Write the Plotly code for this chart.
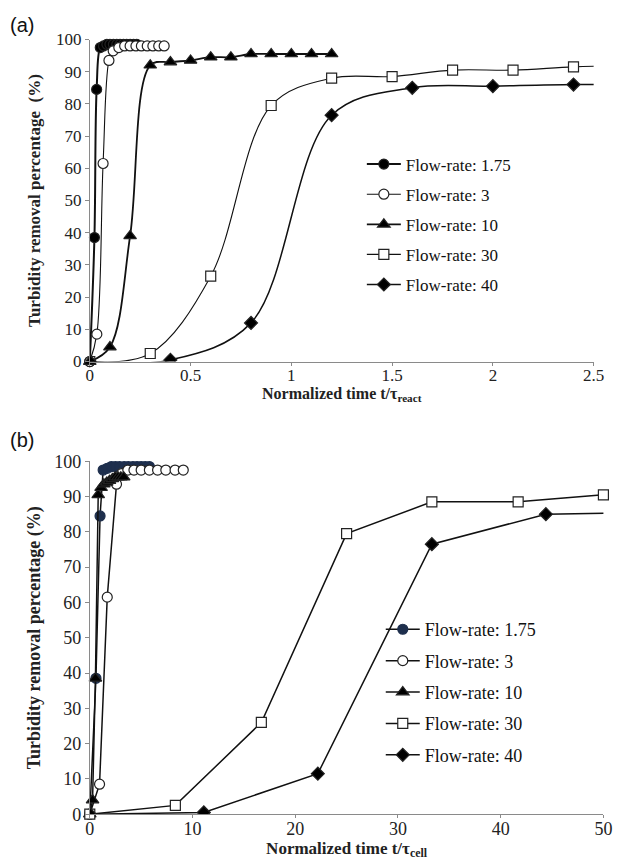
import plotly.graph_objects as go

# ---------------- data: panel (a) (x = t / tau_react) ----------------
a_x_175 = [0, 0.023, 0.034, 0.052, 0.068, 0.085, 0.10, 0.117, 0.134, 0.15, 0.167, 0.183, 0.20, 0.217, 0.233]
a_y_175 = [0, 38.5, 84.5, 97.5, 98, 98.5, 98.5, 98.5, 98.5, 98.5, 98.5, 98.5, 98.5, 98.5, 98.5]

a_x_3 = [0, 0.035, 0.066, 0.095, 0.116, 0.144, 0.173, 0.20, 0.229, 0.256, 0.285, 0.313, 0.342, 0.369]
a_y_3 = [0, 8.5, 61.5, 93.5, 96.5, 97.5, 98, 98, 98, 98, 98, 98, 98, 98]

a_x_10 = [0, 0.1, 0.2, 0.3, 0.4, 0.5, 0.6, 0.7, 0.8, 0.9, 1.0, 1.1, 1.2]
a_y_10 = [0, 4.5, 39, 92, 93, 93.5, 94.5, 94.5, 95.5, 95.5, 95.5, 95.5, 95.5]

a_x_30 = [0, 0.3, 0.6, 0.9, 1.2, 1.5, 1.8, 2.1, 2.4, 2.7]
a_y_30 = [0, 2.5, 26.5, 79.5, 88, 88.5, 90.5, 90.5, 91.5, 92]

a_x_40 = [0, 0.4, 0.8, 1.2, 1.6, 2.0, 2.4, 2.8]
a_y_40 = [0, 0.5, 12, 76.5, 85, 85.5, 86, 86]

# ---------------- data: panel (b) (x = t / tau_cell) ----------------
b_x_175 = [0, 0.6, 1.0, 1.3, 1.7, 2.1, 2.5, 2.9, 3.35, 3.75, 4.2, 4.6, 5.0, 5.4, 5.8]
b_y_175 = [0, 38.5, 84.5, 97.5, 98, 98.5, 98.5, 98.5, 98.5, 98.5, 98.5, 98.5, 98.5, 98.5, 98.5]

b_x_3 = [0, 0.95, 1.7, 2.6, 3.1, 3.7, 4.3, 5.0, 5.8, 6.6, 7.4, 8.3, 9.1]
b_y_3 = [0, 8.5, 61.5, 93.5, 96.5, 97.5, 97.5, 97.5, 97.5, 97.5, 97.5, 97.5, 97.5]

b_x_10 = [0, 0.27, 0.55, 0.82, 1.1, 1.37, 1.65, 1.92, 2.2, 2.47, 2.75, 3.02, 3.3]
b_y_10 = [0, 4, 38.5, 90.5, 92.5, 93.5, 94, 94.5, 95, 95.5, 95.5, 95.5, 95.5]

b_x_30 = [0, 8.33, 16.7, 25.0, 33.3, 41.7, 50.0]
b_y_30 = [0, 2.5, 26, 79.5, 88.5, 88.5, 90.5]

b_x_40 = [0, 11.1, 22.2, 33.3, 44.4, 55.5]
b_y_40 = [0, 0.5, 11.5, 76.5, 85, 85.5]

names = ["Flow-rate: 1.75", "Flow-rate: 3", "Flow-rate: 10", "Flow-rate: 30", "Flow-rate: 40"]

a_x_ticks = [0, 0.5, 1, 1.5, 2, 2.5]
a_x_ticklabels = ["0", "0.5", "1", "1.5", "2", "2.5"]
b_x_ticks = [0, 10, 20, 30, 40, 50]
y_ticks = list(range(0, 101, 10))

SERIF = "Liberation Serif, Times New Roman, DejaVu Serif, serif"
SANS = "Liberation Sans, Arial, sans-serif"

fig = go.Figure()

styles = [
    dict(symbol="circle", size=10, color="black", lw=2.0),
    dict(symbol="circle", size=10, color="white", lw=1.1),
    dict(symbol="triangle-up", size=11, color="black", lw=1.8),
    dict(symbol="square", size=10, color="white", lw=1.1),
    dict(symbol="diamond", size=10, color="black", lw=1.5),
]

a_data = [(a_x_175, a_y_175), (a_x_3, a_y_3), (a_x_10, a_y_10), (a_x_30, a_y_30), (a_x_40, a_y_40)]
b_data = [(b_x_175, b_y_175), (b_x_3, b_y_3), (b_x_10, b_y_10), (b_x_30, b_y_30), (b_x_40, b_y_40)]

for i, ((xs, ys), st) in enumerate(zip(a_data, styles)):
    fig.add_trace(go.Scatter(
        x=xs, y=ys, mode="lines+markers", name=names[i],
        xaxis="x", yaxis="y", legend="legend", legendgroup="a%d" % i,
        line=dict(color="#111", width=st["lw"], shape="spline", smoothing=1.0),
        marker=dict(symbol=st["symbol"], size=st["size"], color=st["color"],
                    line=dict(color="#222", width=1.2)),
        cliponaxis=(i >= 3),
    ))

b_fill = ["#1e2f4d", "white", "black", "white", "black"]
for i, ((xs, ys), st) in enumerate(zip(b_data, styles)):
    fig.add_trace(go.Scatter(
        x=xs, y=ys, mode="lines+markers", name=names[i],
        xaxis="x2", yaxis="y2", legend="legend2", legendgroup="b%d" % i,
        line=dict(color="#111", width=1.5),
        marker=dict(symbol=st["symbol"], size=st["size"], color=b_fill[i],
                    line=dict(color="#1e2f4d" if i == 0 else "#222", width=1.2)),
        cliponaxis=(i == 4),
    ))

axis_common = dict(
    showline=True, linecolor="#8a8a8a", linewidth=1, ticks="outside",
    tickcolor="#8a8a8a", showgrid=False, zeroline=False,
)
x_extra = dict(ticklen=3, ticklabelstandoff=-5)
y_extra = dict(ticklen=4)

fig.update_layout(
    width=626, height=863,
    margin=dict(l=0, r=0, t=0, b=0),
    font=dict(family=SERIF, size=16, color="#222"),
    paper_bgcolor="white", plot_bgcolor="white",
    showlegend=True,
    xaxis=dict(domain=[0.139, 0.965], anchor="y", range=[0, 2.5], tickvals=a_x_ticks,
               ticktext=a_x_ticklabels, tickfont=dict(family=SERIF, size=17, color="#222"),
               title=dict(text="<b>Normalized time t/τ<sub>react</sub></b>", standoff=0,
                          font=dict(family=SERIF, size=16, color="#222")),
               **axis_common, **x_extra),
    yaxis=dict(domain=[0.583, 0.965], anchor="x", range=[0, 100], tickvals=y_ticks,
               tickfont=dict(family=SERIF, size=17, color="#222"),
               title=dict(text="<b>Turbidity removal percentage  (%)</b>", standoff=10,
                          font=dict(family=SERIF, size=17, color="#222")),
               **axis_common, **y_extra),
    xaxis2=dict(domain=[0.139, 0.981], anchor="y2", range=[0, 50], tickvals=b_x_ticks,
                tickfont=dict(family=SERIF, size=18, color="#222"),
                title=dict(text="<b>Normalized time t/τ<sub>cell</sub></b>", standoff=0,
                           font=dict(family=SERIF, size=17, color="#222")),
                **axis_common, **x_extra),
    yaxis2=dict(domain=[0.046, 0.4647], anchor="x2", range=[0, 100], tickvals=y_ticks,
                tickfont=dict(family=SERIF, size=18, color="#222"),
                title=dict(text="<b>Turbidity removal percentage (%)</b>", standoff=8,
                           font=dict(family=SERIF, size=18, color="#222")),
                **axis_common, **y_extra),
    legend=dict(x=0.585, y=0.838, xanchor="left", yanchor="top", bgcolor="rgba(0,0,0,0)",
                font=dict(family=SERIF, size=17, color="#111"), traceorder="grouped",
                tracegroupgap=5, itemwidth=34),
    legend2=dict(x=0.616, y=0.287, xanchor="left", yanchor="top", bgcolor="rgba(0,0,0,0)",
                 font=dict(family=SERIF, size=18, color="#111"), traceorder="grouped",
                 tracegroupgap=5, itemwidth=34),
    annotations=[
        dict(text="(a)", x=0.005, y=0.998, xref="paper", yref="paper", xanchor="left",
             yanchor="top", showarrow=False, font=dict(family=SANS, size=20, color="#111")),
        dict(text="(b)", x=0.005, y=0.505, xref="paper", yref="paper", xanchor="left",
             yanchor="top", showarrow=False, font=dict(family=SANS, size=20, color="#111")),
    ],
)

fig.write_html("out.html")
